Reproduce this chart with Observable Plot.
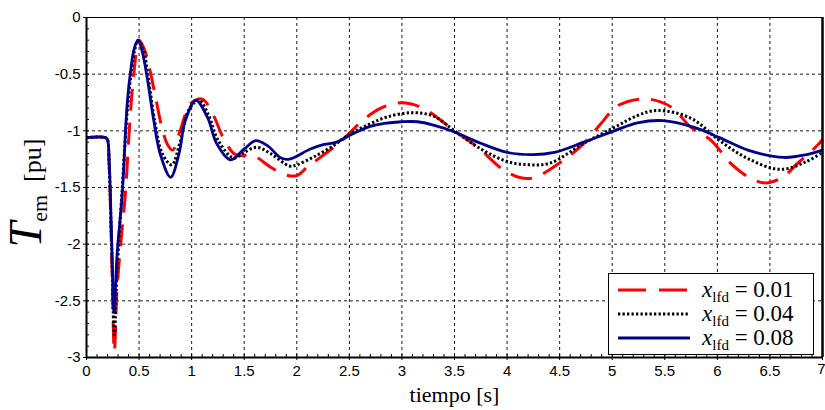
<!DOCTYPE html>
<html><head><meta charset="utf-8">
<script src="https://cdn.jsdelivr.net/npm/d3@7"></script>
<script src="https://cdn.jsdelivr.net/npm/@observablehq/plot@0.6"></script>
<style>body{margin:0;background:#fff}</style>
</head><body><div id="chart"></div>
<script>
// x_lfd = 0.01 (red dashed)
const t1 = [0,0.18,0.2,0.215,0.24,0.265,0.29,0.33,0.37,0.41,0.45,0.5,0.55,0.6,0.66,0.72,0.77,0.82,0.89,0.99,1.1,1.2,1.3,1.4,1.47,1.55,1.63,1.75,1.9,2.0,2.1,2.23,2.43,2.6,2.8,3.0,3.2,3.5,3.72,4.0,4.22,4.51,4.73,4.89,5.05,5.32,5.56,5.75,5.94,6.13,6.3,6.46,6.62,6.76,6.95,7.0];
const v1 = [-1.06,-1.06,-1.08,-1.3,-2.1,-2.95,-2.4,-1.95,-1.55,-0.95,-0.5,-0.2,-0.28,-0.45,-0.72,-0.98,-1.12,-1.17,-1.0,-0.76,-0.72,-0.85,-1.06,-1.2,-1.22,-1.21,-1.24,-1.32,-1.39,-1.395,-1.32,-1.23,-1.086,-0.93,-0.8,-0.753,-0.8,-1.0,-1.145,-1.365,-1.42,-1.277,-1.11,-0.94,-0.78,-0.718,-0.79,-0.97,-1.085,-1.29,-1.41,-1.46,-1.41,-1.29,-1.13,-1.077];
// x_lfd = 0.04 (black dotted)
const t2 = [0,0.18,0.2,0.215,0.24,0.265,0.29,0.34,0.39,0.43,0.46,0.49,0.54,0.59,0.65,0.72,0.81,0.89,0.97,1.07,1.16,1.25,1.4,1.5,1.62,1.75,1.93,2.0,2.16,2.35,2.5,2.67,2.85,3.09,3.3,3.5,3.75,4.0,4.22,4.41,4.73,5.02,5.24,5.43,5.75,6.02,6.29,6.6,6.85,7.0];
const v2 = [-1.06,-1.06,-1.08,-1.28,-2.05,-2.8,-2.25,-1.5,-0.8,-0.45,-0.28,-0.2,-0.28,-0.55,-0.92,-1.2,-1.3,-1.1,-0.82,-0.73,-0.86,-1.08,-1.24,-1.19,-1.145,-1.2,-1.31,-1.3,-1.23,-1.13,-1.03,-0.95,-0.88,-0.84,-0.87,-1.0,-1.16,-1.27,-1.3,-1.285,-1.11,-0.97,-0.865,-0.82,-0.89,-1.085,-1.245,-1.34,-1.27,-1.19];
// x_lfd = 0.08 (blue solid)
const t3 = [0,0.18,0.2,0.215,0.24,0.262,0.29,0.34,0.387,0.42,0.455,0.49,0.53,0.577,0.64,0.7,0.8,0.88,0.94,1.04,1.15,1.24,1.37,1.5,1.61,1.72,1.85,1.93,2.13,2.26,2.38,2.5,2.7,2.83,3.0,3.15,3.3,3.5,3.75,4.0,4.25,4.45,4.73,5.02,5.24,5.48,5.78,6.02,6.29,6.63,6.85,7.0];
const v3 = [-1.06,-1.06,-1.08,-1.25,-2.0,-2.6,-2.1,-1.556,-0.76,-0.47,-0.27,-0.2,-0.3,-0.53,-0.91,-1.2,-1.41,-1.2,-0.91,-0.73,-0.88,-1.115,-1.256,-1.16,-1.086,-1.13,-1.24,-1.25,-1.16,-1.12,-1.1,-1.04,-0.96,-0.935,-0.92,-0.92,-0.95,-1.01,-1.11,-1.19,-1.21,-1.19,-1.1,-1.0,-0.93,-0.91,-0.97,-1.06,-1.17,-1.235,-1.21,-1.17];

const seriesLabels = ["0.01", "0.04", "0.08"];
const xTicks = [0,0.5,1,1.5,2,2.5,3,3.5,4,4.5,5,5.5,6,6.5,7];
const yTicks = [0,-0.5,-1,-1.5,-2,-2.5,-3];
const xMinor = d3.range(0, 70.5, 1).map(d => d / 10);
const yMinor = d3.range(-30, 0.5, 1).map(d => d / 10);
const xLabel = "tiempo [s]";

const styles = [
  {stroke: "#ff0000", strokeWidth: 3, strokeDasharray: "22,12", legendDash: "28,13"},
  {stroke: "#000000", strokeWidth: 3, strokeDasharray: "2.3,2.2", legendDash: "2.3,2.2"},
  {stroke: "#00008b", strokeWidth: 2.8, strokeDasharray: null, legendDash: null}
];
const rows = (t, v) => t.map((d, i) => ({t: d, v: v[i]}));
const data = [rows(t1, v1), rows(t2, v2), rows(t3, v3)];
const lastTick = xTicks[xTicks.length - 1];

const plot = Plot.plot({
  width: 825, height: 410,
  marginLeft: 86, marginRight: 3, marginTop: 17, marginBottom: 53,
  style: {fontFamily: "'Liberation Sans', Arial, sans-serif", fontSize: "15px", background: "white", color: "black"},
  x: {domain: [0, 7]},
  y: {domain: [-3, 0]},
  marks: [
    Plot.gridX(xTicks, {stroke: "#000", strokeOpacity: 0.9, strokeDasharray: "3,3"}),
    Plot.gridY(yTicks, {stroke: "#000", strokeOpacity: 0.9, strokeDasharray: "3,3"}),
    ...data.map((d, i) => Plot.line(d, {
      x: "t", y: "v", curve: "catmull-rom",
      stroke: styles[i].stroke, strokeWidth: styles[i].strokeWidth,
      strokeDasharray: styles[i].strokeDasharray, strokeLinecap: "butt"
    })),
    Plot.ruleY([0], {stroke: "#000", strokeWidth: 1}),
    Plot.ruleY([-3], {stroke: "#000", strokeWidth: 2}),
    Plot.ruleX([0], {stroke: "#000", strokeWidth: 2}),
    Plot.ruleX([7], {stroke: "#000", strokeWidth: 2.5}),
    Plot.axisX({ticks: xMinor, tickSize: -3, tickFormat: () => "", label: null}),
    Plot.axisY({ticks: yMinor, tickSize: -3, tickFormat: () => "", label: null}),
    Plot.axisX({ticks: xTicks, tickSize: 3, tickPadding: 5, tickFormat: d => d === lastTick ? "" : String(d), label: null}),
    Plot.text([lastTick], {x: d => d, text: d => String(d), frameAnchor: "bottom", dy: 16, textAnchor: "end", dx: 3, fontSize: 15, fill: "#000"}),
    Plot.axisY({ticks: yTicks, tickSize: 3, tickPadding: 3, tickFormat: d => String(d), label: null}),
    Plot.text([xLabel], {frameAnchor: "bottom", dy: 44, fontFamily: "'Liberation Serif', 'DejaVu Serif', serif", fontSize: 22, fill: "#000"})
  ]
});
document.getElementById("chart").append(plot);

const svg = d3.select(plot);
// y-axis label
const yl = svg.append("text")
  .attr("transform", "translate(41,193) rotate(-90)")
  .attr("text-anchor", "middle")
  .attr("font-family", "'Liberation Serif', 'DejaVu Serif', serif")
  .attr("fill", "#000");
yl.append("tspan").attr("font-style", "italic").attr("font-size", 46).text("T");
yl.append("tspan").attr("font-size", 22).attr("dy", 6).text("em");
yl.append("tspan").attr("font-size", 26).attr("dy", -6).text("\u2002[pu]");

// legend
const lg = svg.append("g").attr("font-family", "'Liberation Serif', 'DejaVu Serif', serif").attr("text-anchor", "start");
lg.append("rect").attr("x", 608.5).attr("y", 273.5).attr("width", 205).attr("height", 81)
  .attr("fill", "#fff").attr("stroke", "#000").attr("stroke-width", 1);
seriesLabels.forEach((lab, i) => {
  const y = 290 + i * 24;
  lg.append("line").attr("x1", 618).attr("x2", 690).attr("y1", y).attr("y2", y)
    .attr("stroke", styles[i].stroke).attr("stroke-width", styles[i].strokeWidth)
    .attr("stroke-dasharray", styles[i].legendDash);
  const tx = lg.append("text").attr("x", 702).attr("y", y + 7).attr("font-size", 23).attr("fill", "#000").attr("text-anchor", "start");
  tx.append("tspan").attr("font-style", "italic").text("x");
  tx.append("tspan").attr("font-size", 15).attr("dy", 5).text("lfd");
  tx.append("tspan").attr("dy", -5).text(" = " + lab);
});
</script>
</body></html>
